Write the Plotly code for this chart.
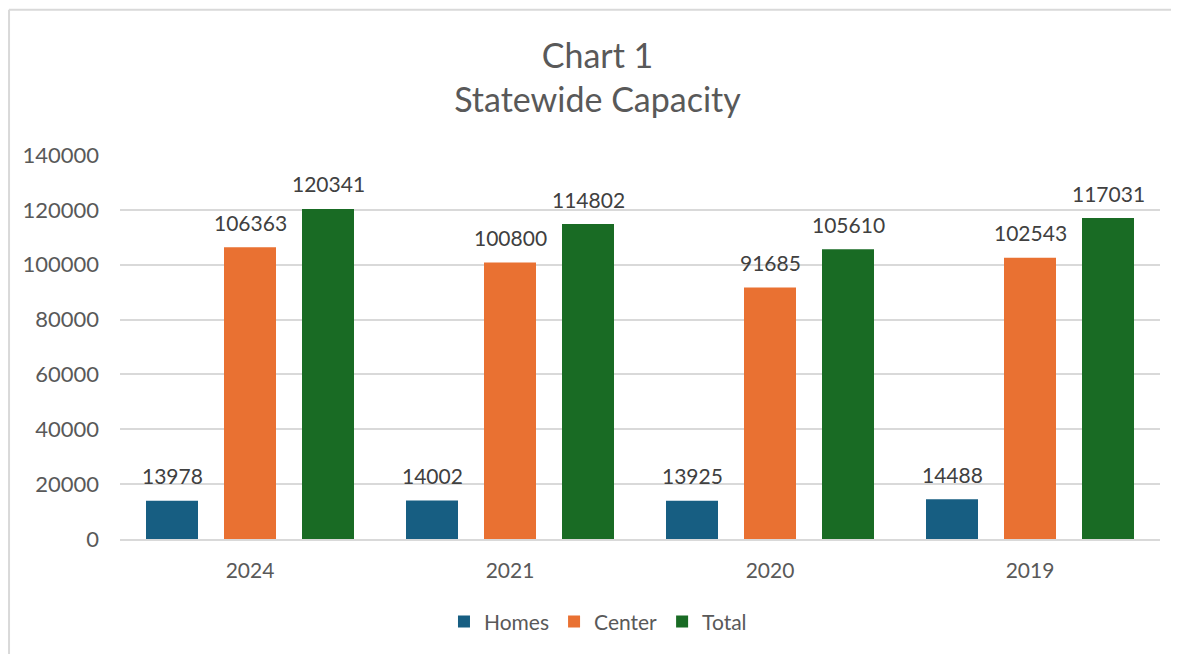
import plotly.graph_objects as go

years = ["2024", "2021", "2020", "2019"]
homes = [13978, 14002, 13925, 14488]
center = [106363, 100800, 91685, 102543]
total = [120341, 114802, 105610, 117031]

series = [
    ("Homes", homes, "#175e82"),
    ("Center", center, "#e97132"),
    ("Total", total, "#196b24"),
]
label_shift = [-78, 0, 78]

fig = go.Figure()
for (name, vals, color), dx in zip(series, label_shift):
    fig.add_trace(go.Bar(
        x=years, y=vals, name=name,
        marker=dict(color=color, line=dict(width=0)),
    ))
    # value labels sit a bit above each bar (x by category index)
    for i, v in enumerate(vals):
        fig.add_annotation(x=i, y=v, text=str(v), showarrow=False,
                           xshift=dx, yshift=25, yanchor="middle",
                           font=dict(size=21, color="#404040"))

# light outer frame like the spreadsheet chart area
fig.add_shape(type="line", xref="paper", yref="paper",
              x0=-0.1067, x1=1.2, y0=1.378, y1=1.378,
              line=dict(color="#d9d9d9", width=2))
fig.add_shape(type="line", xref="paper", yref="paper",
              x0=-0.1067, x1=-0.1067, y0=1.378, y1=-0.4,
              line=dict(color="#d9d9d9", width=2))

fig.update_layout(
    width=1179, height=654,
    margin=dict(l=112, r=27, t=147, b=123),
    paper_bgcolor="white", plot_bgcolor="white",
    font=dict(family="Lato, Open Sans, sans-serif", color="#595959", size=21),
    title=dict(text="Chart 1<br>Statewide Capacity", x=0.5, xanchor="center",
               y=0.908, yanchor="middle",
               font=dict(size=34, color="#595959")),
    barmode="group", bargap=0.1, bargroupgap=1 / 3,
    showlegend=True,
    legend=dict(orientation="h", x=0.4596, xanchor="center", y=-0.216, yanchor="middle",
                font=dict(size=21, color="#595959"), traceorder="normal"),
    yaxis=dict(range=[0, 140000], dtick=20000, showgrid=True,
               gridcolor="#d9d9d9", gridwidth=1.5, zeroline=False,
               tickfont=dict(size=22, color="#595959"), ticks="",
               ticklabelstandoff=20, tickformat="d"),
    xaxis=dict(type="category", range=[-0.5, 3.5], showline=True,
               linecolor="#d9d9d9", linewidth=1.5,
               tickfont=dict(size=21, color="#595959"), ticks="",
               ticklabelstandoff=12),
)

fig.write_html("out.html")
